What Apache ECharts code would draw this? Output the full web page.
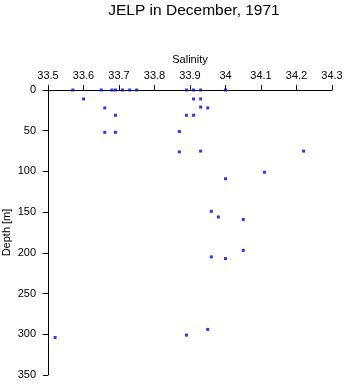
<!DOCTYPE html>
<html>
<head>
<meta charset="utf-8">
<script src="https://cdn.jsdelivr.net/npm/echarts@6/dist/echarts.min.js"></script>
<style>
  html, body { margin: 0; padding: 0; background: #fff; }
  #chart { width: 346px; height: 384px; }
</style>
</head>
<body>
<div id="chart"></div>
<script>
// salinity / depth pairs
const salinity = [
  33.57, 33.65, 33.68, 33.69, 33.71, 33.73, 33.75, 33.89, 33.91, 33.93, 34.00,
  33.60, 33.91, 33.93,
  33.66, 33.93, 33.95,
  33.69, 33.89, 33.91,
  33.66, 33.69, 33.87,
  33.87, 33.93, 34.22,
  34.11,
  34.00,
  33.96, 33.98, 34.05,
  34.05, 33.96, 34.00,
  33.95, 33.89, 33.52
];
const depth = [
  0, 0, 0, 0, 0, 0, 0, 0, 0, 0, 0,
  11, 11, 11,
  22, 21, 22,
  31, 31, 31,
  52, 52, 51,
  76, 75, 75,
  101,
  109,
  149, 156, 159,
  197, 205, 207,
  294, 301, 304
];

const font = 'Liberation Sans';
const chart = echarts.init(document.getElementById('chart'));
chart.setOption({
  animation: false,
  textStyle: { fontFamily: font },
  title: {
    text: 'JELP in December, 1971',
    left: 189,
    textAlign: 'center',
    top: -2,
    textStyle: { fontFamily: font, fontSize: 15.5, fontWeight: 'normal', color: '#000' }
  },
  grid: { left: 48, right: 14, top: 90, bottom: 9, containLabel: false, outerBoundsMode: 'none' },
  xAxis: {
    type: 'value',
    position: 'top',
    min: 33.5,
    max: 34.3,
    interval: 0.1,
    name: 'Salinity',
    nameLocation: 'middle',
    nameGap: 25,
    nameMoveOverlap: false,
    nameTextStyle: { fontFamily: font, fontSize: 11, color: '#000' },
    axisLine: { onZero: false, lineStyle: { color: '#000', width: 1 } },
    axisTick: { length: 5, lineStyle: { color: '#000' } },
    axisLabel: {
      fontFamily: font, fontSize: 11, color: '#000', margin: 9,
      formatter: v => String(Math.round(v * 10) / 10)
    },
    splitLine: { show: false }
  },
  yAxis: {
    type: 'value',
    inverse: true,
    min: 0,
    max: 350,
    interval: 50,
    name: 'Depth [m]',
    nameLocation: 'middle',
    nameGap: 36,
    nameMoveOverlap: false,
    nameTextStyle: { fontFamily: font, fontSize: 11, color: '#000' },
    axisLine: { show: true, onZero: false, lineStyle: { color: '#000', width: 1 } },
    axisTick: { show: true, length: 5, lineStyle: { color: '#000' } },
    axisLabel: { fontFamily: font, fontSize: 11, color: '#000', margin: 12 },
    splitLine: { show: false }
  },
  series: [{
    type: 'scatter',
    symbol: 'rect',
    symbolSize: 3,
    itemStyle: { color: '#0000ff' },
    data: salinity.map((s, i) => [s, depth[i]])
  }]
});
</script>
</body>
</html>
